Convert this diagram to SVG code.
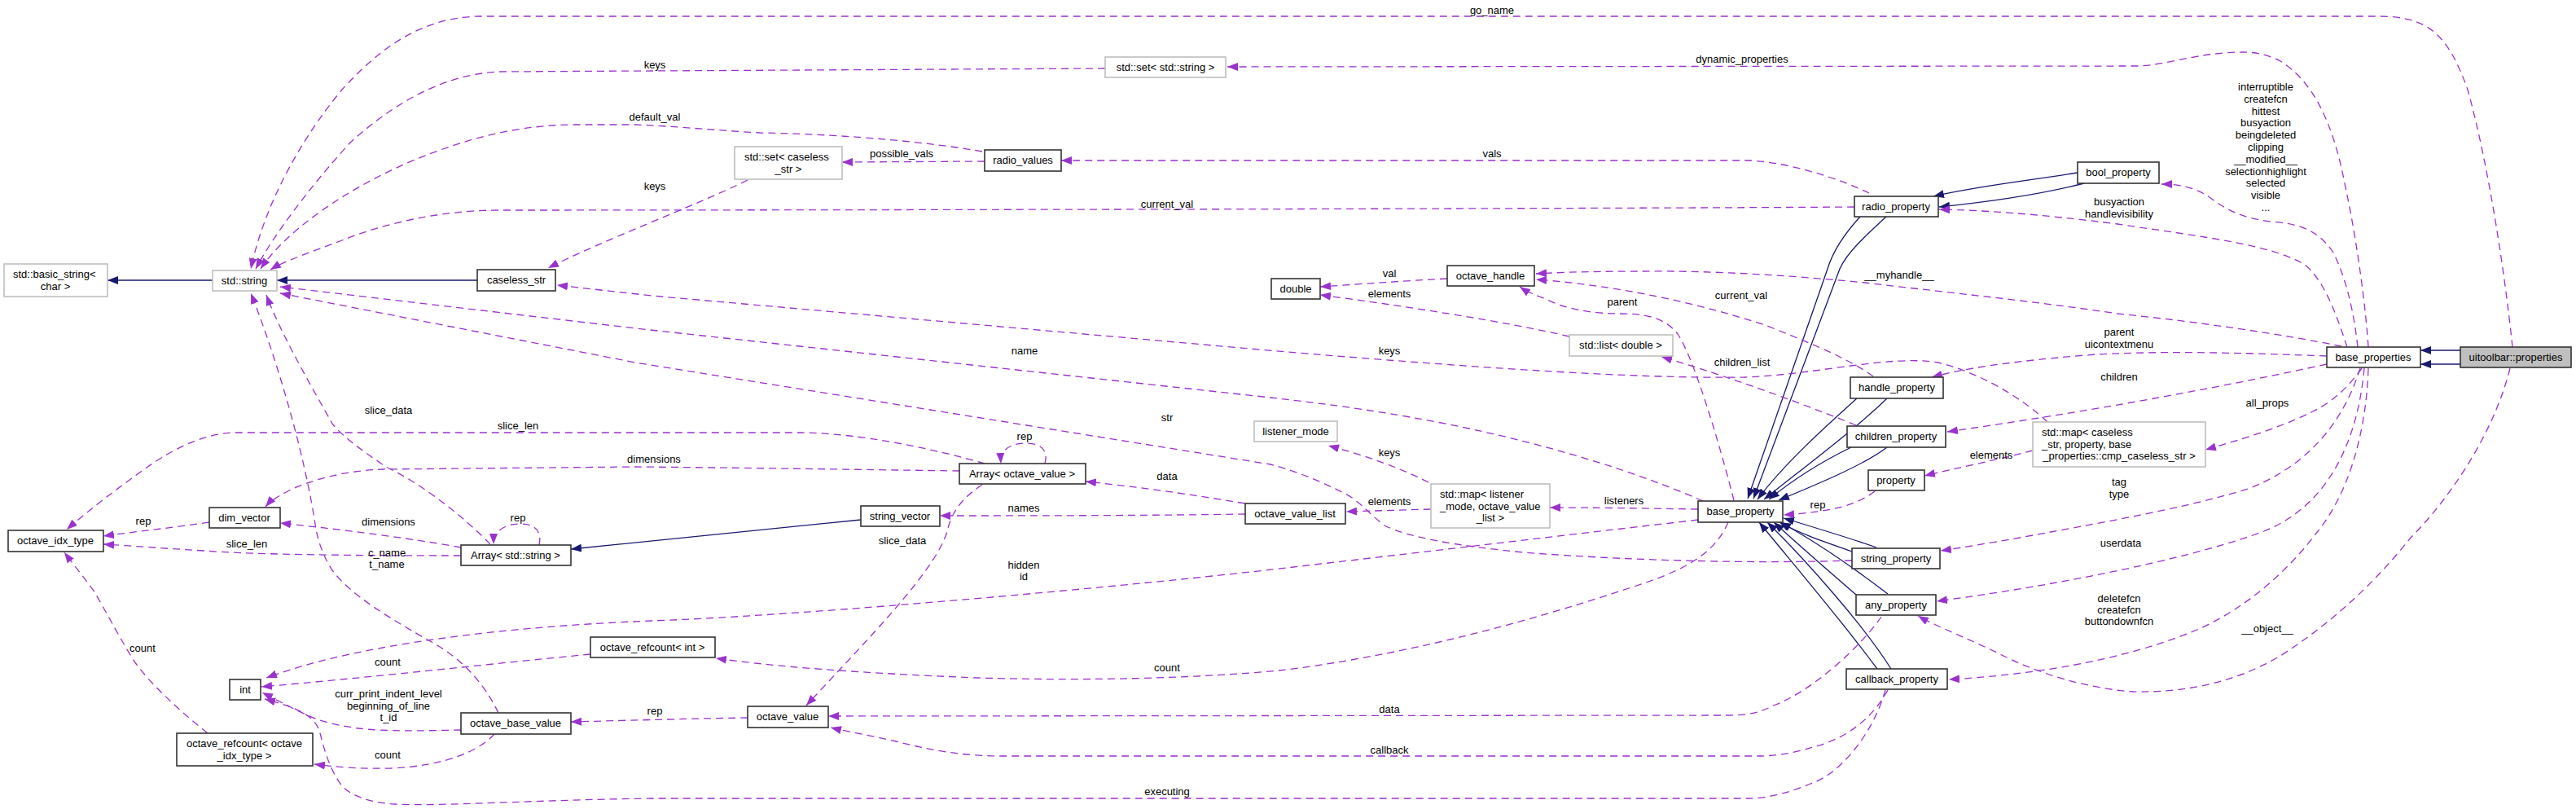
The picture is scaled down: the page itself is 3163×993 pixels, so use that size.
<svg xmlns="http://www.w3.org/2000/svg" width="3163" height="993" viewBox="0 0 3163 993">
<style>
text{font-family:"Liberation Sans",Arial,sans-serif;font-size:13px;fill:#000}
.lbl{text-anchor:middle}
.nb rect{fill:#fff;stroke:#333;stroke-width:1.6}
.ng rect{fill:#fff;stroke:#bfbfbf;stroke-width:1.6}
.ns rect{fill:#bfbfbf;stroke:#333;stroke-width:1.6}
.node text{text-anchor:middle}
.node text.l{text-anchor:start}
.u{fill:none;stroke:#9a32cd;stroke-width:1.3;stroke-dasharray:9,6;marker-end:url(#ap)}
.i{fill:none;stroke:#191970;stroke-width:1.3;marker-end:url(#ab)}
</style>
<defs>
<marker id="ap" markerUnits="userSpaceOnUse" markerWidth="14" markerHeight="10" refX="13" refY="5" orient="auto"><path d="M0,0 L13,5 L0,10 z" fill="#9a32cd"/></marker>
<marker id="ab" markerUnits="userSpaceOnUse" markerWidth="14" markerHeight="10" refX="13" refY="5" orient="auto"><path d="M0,0 L13,5 L0,10 z" fill="#191970"/></marker>
</defs>
<rect width="3163" height="993" fill="#fff"/>
<g id="connectors">
<!-- inheritance -->
<path class="i" d="M261,344 L132,344"/>
<path class="i" d="M586,344 L340,344"/>
<path class="i" d="M1057,638 L701,674"/>
<path class="i" d="M2551,212 C2490,222 2430,228 2374,241"/>
<path class="i" d="M2559,225 C2500,240 2440,248 2381,254"/>
<path class="i" d="M2284,266 C2262,290 2250,310 2244,330 L2146,612"/>
<path class="i" d="M2316,266 C2290,290 2268,310 2259,330 L2153,612"/>
<path class="i" d="M2280,489 C2240,525 2190,570 2158,613"/>
<path class="i" d="M2317,489 C2280,525 2220,570 2166,613"/>
<path class="i" d="M2273,549 C2230,570 2200,590 2172,613"/>
<path class="i" d="M2317,549 C2290,570 2230,595 2184,614"/>
<path class="i" d="M2274,677 C2240,665 2210,655 2185,641"/>
<path class="i" d="M2304,672 C2270,660 2230,648 2190,636"/>
<path class="i" d="M2279,730 C2250,705 2210,670 2178,641"/>
<path class="i" d="M2318,729 C2280,700 2230,665 2186,641"/>
<path class="i" d="M2305,821 C2260,760 2200,690 2160,641"/>
<path class="i" d="M2322,821 C2290,770 2220,690 2170,641"/>
<path class="i" d="M3021,430 L2972,430"/>
<path class="i" d="M3021,447 L2972,447"/>
<!-- usage -->
<path class="u" d="M3085,426 C3075,330 3055,200 3030,110 C3005,40 2980,20 2920,20 L587,20 C520,22 470,55 420,110 C370,170 325,250 308,330"/>
<path class="u" d="M2908,426 C2905,380 2895,300 2880,230 C2865,150 2840,100 2800,75 C2780,65 2765,64 2754,64 C2700,64 2660,80 2626,81 L1507,82"/>
<path class="u" d="M1357,84 L612,88 C540,92 480,130 430,175 C380,230 335,290 314,330"/>
<path class="u" d="M1206,186 C1150,176 1050,165 933,163 C880,160 830,155 780,153 L700,153 C620,155 560,175 500,200 C420,235 350,285 320,330"/>
<path class="u" d="M918,221 C860,250 740,295 673,329"/>
<path class="u" d="M2277,254 C2000,256 1000,258 612,258 C540,258 470,275 420,295 C380,310 350,320 332,331"/>
<path class="u" d="M1209,198 L1034,199"/>
<path class="u" d="M2295,237 C2260,220 2200,200 2150,197 L1303,197"/>
<path class="u" d="M2882,426 C2870,390 2855,345 2830,325 C2790,300 2700,290 2600,275 C2500,262 2430,258 2381,257"/>
<path class="u" d="M2895,426 C2890,380 2880,340 2865,310 C2845,280 2820,275 2790,272 C2750,268 2730,255 2710,240 C2690,228 2670,226 2654,226"/>
<path class="u" d="M2875,425 C2800,410 2700,395 2600,385 C2500,370 2400,360 2290,347 C2200,338 2100,332 2019,333 C1960,333 1920,334 1886,336"/>
<path class="u" d="M2300,462 C2270,440 2220,420 2170,400 C2080,370 1980,350 1886,343"/>
<path class="u" d="M2129,614 C2110,540 2080,440 2060,410 C2045,390 2020,385 1990,385 C1950,385 1920,378 1900,368 C1885,362 1875,358 1866,352"/>
<path class="u" d="M1777,342 C1720,345 1680,348 1621,352"/>
<path class="u" d="M1927,413 C1850,395 1720,375 1621,362"/>
<path class="u" d="M2279,522 C2200,490 2100,455 2040,438"/>
<path class="u" d="M2514,518 C2490,495 2440,460 2380,445 C2320,435 2230,460 2142,463 C2000,465 1800,450 1580,432 L800,363 L684,350"/>
<path class="u" d="M2091,615 C2000,575 1880,540 1764,518 C1680,502 1620,495 1560,488 L780,403 L344,352"/>
<path class="u" d="M2274,688 C2150,692 2000,688 1870,678 C1790,670 1730,660 1700,645 C1680,630 1670,615 1650,605 C1620,590 1590,578 1560,570 L780,445 L344,360"/>
<path class="u" d="M612,875 C590,830 560,805 530,788 C480,760 430,730 408,700 C395,680 390,660 388,650 C375,560 340,440 308,360"/>
<path class="u" d="M602,668 C570,635 520,595 474,573 C440,550 420,535 408,520 C380,470 345,410 327,362"/>
<path class="u" d="M662,669 C666,650 655,643 638,643 C620,643 606,652 606,668"/>
<path class="u" d="M1283,569 C1288,550 1275,544 1260,544 C1240,544 1228,552 1229,569"/>
<path class="u" d="M1209,569 C1150,552 1060,532 984,531 L286,531 C250,533 220,548 190,567 C150,595 110,625 82,650"/>
<path class="u" d="M1178,578 C1100,577 900,574 780,573 L470,576 C420,578 380,590 355,602 C340,610 332,615 326,622"/>
<path class="u" d="M566,672 C500,660 420,650 344,642"/>
<path class="u" d="M257,641 C210,648 170,652 127,658"/>
<path class="u" d="M566,682 C400,682 300,680 250,676 C200,673 160,670 127,668"/>
<path class="u" d="M1529,618 C1450,605 1400,598 1333,591"/>
<path class="u" d="M1529,631 C1400,633 1250,633 1154,633"/>
<path class="u" d="M1206,595 C1180,612 1168,630 1163,652 C1150,700 1060,790 990,866"/>
<path class="u" d="M1754,592 C1720,575 1680,560 1631,547"/>
<path class="u" d="M1757,625 C1720,626 1690,627 1653,628"/>
<path class="u" d="M2085,625 C2020,624 1960,623 1903,623"/>
<path class="u" d="M2302,603 C2280,620 2250,628 2190,632"/>
<path class="u" d="M2496,553 C2450,565 2400,575 2363,584"/>
<path class="u" d="M2857,437 C2750,433 2650,430 2560,436 C2480,443 2420,450 2372,463"/>
<path class="u" d="M2857,447 C2750,470 2600,500 2391,530"/>
<path class="u" d="M2900,452 C2880,480 2860,495 2840,505 C2800,525 2750,540 2708,552"/>
<path class="u" d="M2898,452 C2880,510 2840,570 2760,600 C2680,625 2560,645 2480,660 C2440,667 2410,672 2383,676"/>
<path class="u" d="M2903,452 C2895,540 2860,620 2780,652 C2700,682 2550,715 2378,738"/>
<path class="u" d="M2908,452 C2905,540 2880,610 2846,652 C2810,700 2760,745 2700,772 C2610,810 2500,828 2393,834"/>
<path class="u" d="M3082,452 C3060,540 3000,620 2960,660 C2920,710 2870,760 2800,805 C2740,840 2680,850 2620,849 C2560,845 2500,825 2460,805 C2420,785 2380,770 2355,756"/>
<path class="u" d="M2085,638 L1580,697 C1400,718 1000,755 800,762 C650,768 540,782 470,795 C410,806 365,818 327,832"/>
<path class="u" d="M2122,641 C2105,680 2070,700 2000,722 C1900,755 1750,800 1580,822 C1450,835 1300,835 1200,832 C1050,826 950,818 879,808"/>
<path class="u" d="M725,803 C600,815 450,832 321,843"/>
<path class="u" d="M566,896 C520,897 470,898 440,894 C410,890 390,884 378,878 C360,870 345,862 322,850"/>
<path class="u" d="M607,901 C590,920 550,940 480,943 C440,944 410,941 386,938"/>
<path class="u" d="M255,900 C220,872 185,840 165,812 C145,780 130,750 115,725 C100,705 88,690 79,678"/>
<path class="u" d="M918,881 C850,882 780,884 701,886"/>
<path class="u" d="M2310,757 C2280,800 2220,850 2180,865 C2160,875 2147,878 2120,878 L1017,879"/>
<path class="u" d="M2318,847 C2300,880 2270,905 2230,916 C2200,925 2180,928 2157,928 L1229,928 C1180,928 1140,920 1100,910 C1070,903 1040,898 1020,893"/>
<path class="u" d="M2315,847 C2300,900 2260,950 2223,962 C2200,972 2170,980 2147,980 L800,980 C650,982 540,990 485,987 C450,985 430,975 420,965 C405,945 398,920 393,900 C388,880 370,870 325,858"/>
<!-- labels -->
<text class="lbl" x="1832" y="17">go_name</text>
<text class="lbl" x="2139" y="77">dynamic_properties</text>
<text class="lbl" x="804" y="84">keys</text>
<text class="lbl" x="804" y="148">default_val</text>
<text class="lbl" x="804" y="233">keys</text>
<text class="lbl" x="1433" y="255">current_val</text>
<text class="lbl" x="1107" y="193">possible_vals</text>
<text class="lbl" x="1832" y="193">vals</text>
<text class="lbl" x="2602" y="252">busyaction</text>
<text class="lbl" x="2602" y="267">handlevisibility</text>
<text class="lbl" x="2782" y="111">interruptible</text>
<text class="lbl" x="2782" y="125.8">createfcn</text>
<text class="lbl" x="2782" y="140.6">hittest</text>
<text class="lbl" x="2782" y="155.4">busyaction</text>
<text class="lbl" x="2782" y="170.2">beingdeleted</text>
<text class="lbl" x="2782" y="185">clipping</text>
<text class="lbl" x="2782" y="199.8">__modified__</text>
<text class="lbl" x="2782" y="214.6">selectionhighlight</text>
<text class="lbl" x="2782" y="229.4">selected</text>
<text class="lbl" x="2782" y="244.2">visible</text>
<text class="lbl" x="2782" y="259">...</text>
<text class="lbl" x="2332" y="342">__myhandle__</text>
<text class="lbl" x="2138" y="367">current_val</text>
<text class="lbl" x="1992" y="375">parent</text>
<text class="lbl" x="1706" y="340">val</text>
<text class="lbl" x="1706" y="365">elements</text>
<text class="lbl" x="2139" y="449">children_list</text>
<text class="lbl" x="1706" y="435">keys</text>
<text class="lbl" x="1258" y="435">name</text>
<text class="lbl" x="1433" y="517">str</text>
<text class="lbl" x="475" y="683">c_name</text>
<text class="lbl" x="475" y="697">t_name</text>
<text class="lbl" x="477" y="508">slice_data</text>
<text class="lbl" x="636" y="640">rep</text>
<text class="lbl" x="1258" y="540">rep</text>
<text class="lbl" x="636" y="527">slice_len</text>
<text class="lbl" x="803" y="568">dimensions</text>
<text class="lbl" x="477" y="645">dimensions</text>
<text class="lbl" x="176" y="644">rep</text>
<text class="lbl" x="303" y="672">slice_len</text>
<text class="lbl" x="1433" y="589">data</text>
<text class="lbl" x="1257" y="628">names</text>
<text class="lbl" x="1108" y="668">slice_data</text>
<text class="lbl" x="1706" y="560">keys</text>
<text class="lbl" x="1706" y="620">elements</text>
<text class="lbl" x="1994" y="619">listeners</text>
<text class="lbl" x="2232" y="624">rep</text>
<text class="lbl" x="2445" y="563">elements</text>
<text class="lbl" x="2602" y="412">parent</text>
<text class="lbl" x="2602" y="427">uicontextmenu</text>
<text class="lbl" x="2602" y="467">children</text>
<text class="lbl" x="2784" y="499">all_props</text>
<text class="lbl" x="2602" y="596">tag</text>
<text class="lbl" x="2602" y="611">type</text>
<text class="lbl" x="2604" y="671">userdata</text>
<text class="lbl" x="2602" y="739">deletefcn</text>
<text class="lbl" x="2602" y="753">createfcn</text>
<text class="lbl" x="2602" y="767">buttondownfcn</text>
<text class="lbl" x="2784" y="776">__object__</text>
<text class="lbl" x="1257" y="698">hidden</text>
<text class="lbl" x="1257" y="712">id</text>
<text class="lbl" x="1433" y="824">count</text>
<text class="lbl" x="476" y="817">count</text>
<text class="lbl" x="477" y="856">curr_print_indent_level</text>
<text class="lbl" x="477" y="871">beginning_of_line</text>
<text class="lbl" x="477" y="885">t_id</text>
<text class="lbl" x="476" y="931">count</text>
<text class="lbl" x="175" y="800">count</text>
<text class="lbl" x="804" y="877">rep</text>
<text class="lbl" x="1706" y="875">data</text>
<text class="lbl" x="1706" y="925">callback</text>
<text class="lbl" x="1433" y="976">executing</text>
</g>
<g id="n_basic_string" class="node ng"><rect x="5" y="324" width="127" height="40"/><text class="l" x="16" y="341">std::basic_string&lt;</text><text x="68" y="356">char &gt;</text></g>
<g id="n_std_string" class="node ng"><rect x="261" y="332" width="79" height="25"/><text x="300" y="349">std::string</text></g>
<g id="n_caseless_str" class="node nb"><rect x="586" y="331" width="96" height="26"/><text x="634" y="348">caseless_str</text></g>
<g id="n_set_string" class="node ng"><rect x="1357" y="70" width="148" height="25"/><text x="1431" y="87">std::set&lt; std::string &gt;</text></g>
<g id="n_set_caseless" class="node ng"><rect x="902" y="180" width="132" height="40"/><text class="l" x="914" y="197">std::set&lt; caseless</text><text x="968" y="212">_str &gt;</text></g>
<g id="n_radio_values" class="node nb"><rect x="1209" y="184" width="94" height="26"/><text x="1256" y="201">radio_values</text></g>
<g id="n_radio_property" class="node nb"><rect x="2277" y="241" width="103" height="25"/><text x="2328" y="258">radio_property</text></g>
<g id="n_bool_property" class="node nb"><rect x="2551" y="199" width="100" height="26"/><text x="2601" y="216">bool_property</text></g>
<g id="n_octave_handle" class="node nb"><rect x="1777" y="326" width="107" height="25"/><text x="1830" y="343">octave_handle</text></g>
<g id="n_double" class="node nb"><rect x="1561" y="342" width="60" height="25"/><text x="1591" y="359">double</text></g>
<g id="n_list_double" class="node ng"><rect x="1927" y="411" width="127" height="26"/><text x="1990" y="428">std::list&lt; double &gt;</text></g>
<g id="n_listener_mode" class="node ng"><rect x="1540" y="517" width="102" height="25"/><text x="1591" y="534">listener_mode</text></g>
<g id="n_map_listener" class="node ng"><rect x="1757" y="594" width="146" height="54"/><text class="l" x="1768" y="611">std::map&lt; listener</text><text class="l" x="1768" y="626">_mode, octave_value</text><text x="1830" y="640">_list &gt;</text></g>
<g id="n_octave_value_list" class="node nb"><rect x="1529" y="618" width="123" height="25"/><text x="1590" y="635">octave_value_list</text></g>
<g id="n_base_property" class="node nb"><rect x="2085" y="615" width="104" height="26"/><text x="2137" y="632">base_property</text></g>
<g id="n_handle_property" class="node nb"><rect x="2272" y="463" width="114" height="26"/><text x="2329" y="480">handle_property</text></g>
<g id="n_children_property" class="node nb"><rect x="2268" y="523" width="121" height="26"/><text x="2328" y="540">children_property</text></g>
<g id="n_property" class="node nb"><rect x="2294" y="577" width="69" height="25"/><text x="2328" y="594">property</text></g>
<g id="n_map_caseless" class="node ng"><rect x="2496" y="518" width="212" height="55"/><text class="l" x="2507" y="535">std::map&lt; caseless</text><text class="l" x="2507" y="550">_str, property, base</text><text x="2602" y="564">_properties::cmp_caseless_str &gt;</text></g>
<g id="n_base_properties" class="node nb"><rect x="2857" y="426" width="115" height="25"/><text x="2914" y="443">base_properties</text></g>
<g id="n_uitoolbar_properties" class="node ns"><rect x="3021" y="426" width="136" height="25"/><text x="3089" y="443">uitoolbar::properties</text></g>
<g id="n_string_property" class="node nb"><rect x="2274" y="673" width="108" height="25"/><text x="2328" y="690">string_property</text></g>
<g id="n_any_property" class="node nb"><rect x="2279" y="730" width="98" height="25"/><text x="2328" y="747">any_property</text></g>
<g id="n_callback_property" class="node nb"><rect x="2267" y="821" width="124" height="25"/><text x="2329" y="838">callback_property</text></g>
<g id="n_array_octave_value" class="node nb"><rect x="1178" y="569" width="155" height="25"/><text x="1255" y="586">Array&lt; octave_value &gt;</text></g>
<g id="n_string_vector" class="node nb"><rect x="1057" y="621" width="97" height="25"/><text x="1105" y="638">string_vector</text></g>
<g id="n_dim_vector" class="node nb"><rect x="257" y="623" width="87" height="25"/><text x="300" y="640">dim_vector</text></g>
<g id="n_octave_idx_type" class="node nb"><rect x="10" y="651" width="117" height="26"/><text x="68" y="668">octave_idx_type</text></g>
<g id="n_array_string" class="node nb"><rect x="566" y="669" width="135" height="25"/><text x="633" y="686">Array&lt; std::string &gt;</text></g>
<g id="n_int" class="node nb"><rect x="282" y="834" width="38" height="25"/><text x="301" y="851">int</text></g>
<g id="n_refcount_int" class="node nb"><rect x="725" y="782" width="153" height="25"/><text x="801" y="799">octave_refcount&lt; int &gt;</text></g>
<g id="n_octave_base_value" class="node nb"><rect x="566" y="875" width="135" height="26"/><text x="633" y="892">octave_base_value</text></g>
<g id="n_refcount_idx" class="node nb"><rect x="217" y="900" width="167" height="40"/><text class="l" x="229" y="917">octave_refcount&lt; octave</text><text x="300" y="932">_idx_type &gt;</text></g>
<g id="n_octave_value" class="node nb"><rect x="918" y="867" width="99" height="26"/><text x="967" y="884">octave_value</text></g>
</svg>
